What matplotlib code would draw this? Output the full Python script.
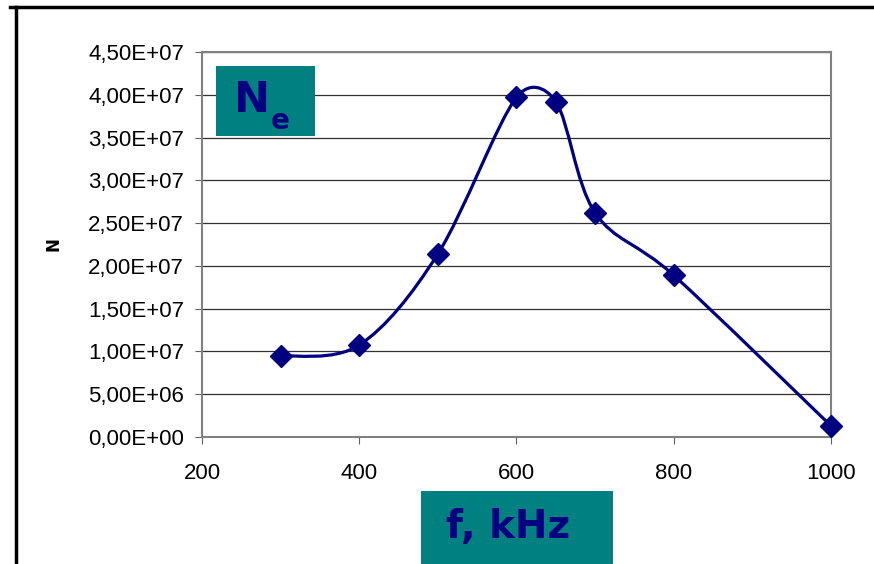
import numpy as np
import matplotlib
matplotlib.use("Agg")
import matplotlib.pyplot as plt
from matplotlib.path import Path
from matplotlib.patches import PathPatch, Rectangle
from matplotlib.lines import Line2D
from matplotlib.ticker import FuncFormatter, MultipleLocator

# data
freq = [300, 400, 500, 600, 650, 700, 800, 1000]   # kHz
ne = [9.45e6, 1.075e7, 2.14e7, 3.97e7, 3.92e7, 2.62e7, 1.89e7, 1.3e6]

navy = "#000080"
teal = "#008080"

fig = plt.figure(figsize=(8.74, 5.64), dpi=100)
ax = fig.add_axes([0.2311, 0.2252, 0.7197, 0.6826])
ax.set_xlim(200, 1000)
ax.set_ylim(0, 4.5e7)

# excel-like smoothed line: cubic bezier through the points, built in pixel space
pts = ax.transData.transform(np.column_stack([freq, ne]))
n = len(pts)


def ctrl(v, chord):
    # keep the handle from running past half of the segment
    L = np.hypot(*v)
    lim = 0.5 * chord
    return v * (lim / L) if L > lim else v


verts = [pts[0]]
codes = [Path.MOVETO]
for i in range(n - 1):
    p0 = pts[max(i - 1, 0)]
    p1 = pts[i]
    p2 = pts[i + 1]
    p3 = pts[min(i + 2, n - 1)]
    chord = np.hypot(*(p2 - p1))
    c1 = p1 + ctrl((p2 - p0) / 6, chord)
    c2 = p2 - ctrl((p3 - p1) / 6, chord)
    verts += [c1, c2, p2]
    codes += [Path.CURVE4] * 3
verts = ax.transData.inverted().transform(np.array(verts))
ax.add_patch(PathPatch(Path(verts, codes), fill=False, edgecolor=navy, lw=2.3, zorder=3))
ax.plot(freq, ne, linestyle="none", marker="D", ms=11, color=navy, zorder=4, clip_on=False)

ax.xaxis.set_major_locator(MultipleLocator(200))
ax.yaxis.set_major_locator(MultipleLocator(5e6))
ax.yaxis.set_major_formatter(FuncFormatter(lambda v, p: f"{v:.2E}".replace(".", ",")))
ax.grid(axis="y", color="#303030", lw=0.9)
ax.set_axisbelow(True)
for s in ax.spines.values():
    s.set_color("#808080")
    s.set_linewidth(1.5)
ax.tick_params(direction="out", length=5, color="#606060", labelsize=16,
               labelcolor="black")
ax.tick_params(axis="x", pad=14)
ax.tick_params(axis="y", pad=8)
for lab in ax.get_xticklabels() + ax.get_yticklabels():
    lab.set_family("Liberation Sans")
ax.set_ylabel("N", fontsize=12, fontweight="bold", labelpad=18)

# outer frame lines
fig.add_artist(Line2D([10 / 874, 1], [1 - 7 / 564, 1 - 7 / 564], color="black", lw=2.5))
fig.add_artist(Line2D([16 / 874, 16 / 874], [0, 1 - 7 / 564], color="black", lw=2.5))

# N_e box
fig.add_artist(Rectangle((216 / 874, 1 - 136 / 564), 99 / 874, 70 / 564,
                         transform=fig.transFigure, facecolor=teal, edgecolor="none"))
fig.text(252 / 874, 1 - 100 / 564, "N", color=navy, fontsize=31, fontweight="bold",
         ha="center", va="center")
fig.text(280 / 874, 1 - 121 / 564, "e", color=navy, fontsize=20, fontweight="bold",
         ha="center", va="center")

# f, kHz box
fig.add_artist(Rectangle((421 / 874, 0), 192 / 874, 73 / 564,
                         transform=fig.transFigure, facecolor=teal, edgecolor="none"))
fig.text(508 / 874, 1 - 527 / 564, "f, kHz", color=navy, fontsize=28, fontweight="bold",
         ha="center", va="center")

fig.savefig("out.png", dpi=100)
